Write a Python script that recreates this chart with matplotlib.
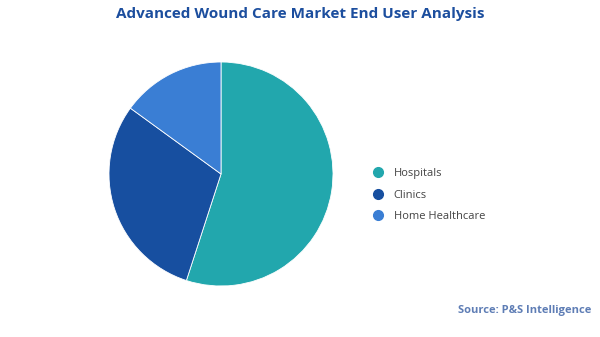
import matplotlib.pyplot as plt
from matplotlib.lines import Line2D

plt.rcParams['font.family'] = ['Open Sans', 'DejaVu Sans']

# ---------- data -----------------------------
labels = ["Hospitals", "Clinics", "Home Healthcare"]
shares = [55, 30, 15]
colors = ["#22A7AD", "#174FA0", "#3A7ED4"]

fig = plt.figure(figsize=(6, 3.37), dpi=100)
fig.patch.set_facecolor("white")

ax = fig.add_axes([109 / 600, 1 - 286 / 337, 224 / 600, 224 / 337])
ax.pie(shares, colors=colors, startangle=90, counterclock=False,
       wedgeprops=dict(edgecolor="white", linewidth=0.6), frame=False)
ax.set_xlim(-1, 1)
ax.set_ylim(-1, 1)
ax.set_aspect("equal")
ax.axis("off")

fig.text(0.5, 1 - 14 / 337, "Advanced Wound Care Market End User Analysis",
         ha="center", va="center", fontsize=11, fontweight="bold", color="#1C4E9E")

handles = [Line2D([], [], marker="o", linestyle="", markersize=7,
                  markerfacecolor=c, markeredgecolor=c) for c in colors]
fig.legend(handles, labels, loc="center left",
           bbox_to_anchor=(367 / 600, 1 - 195 / 337), frameon=False,
           fontsize=8, handletextpad=0.8, labelspacing=0.95, labelcolor="#444444",
           borderaxespad=0, handlelength=1.2)

fig.text(591 / 600, 1 - 310 / 337, "Source: P&S Intelligence", ha="right", va="center",
         fontsize=8, fontweight="bold", color="#5E7DB5")

fig.savefig("out.png", dpi=100)
